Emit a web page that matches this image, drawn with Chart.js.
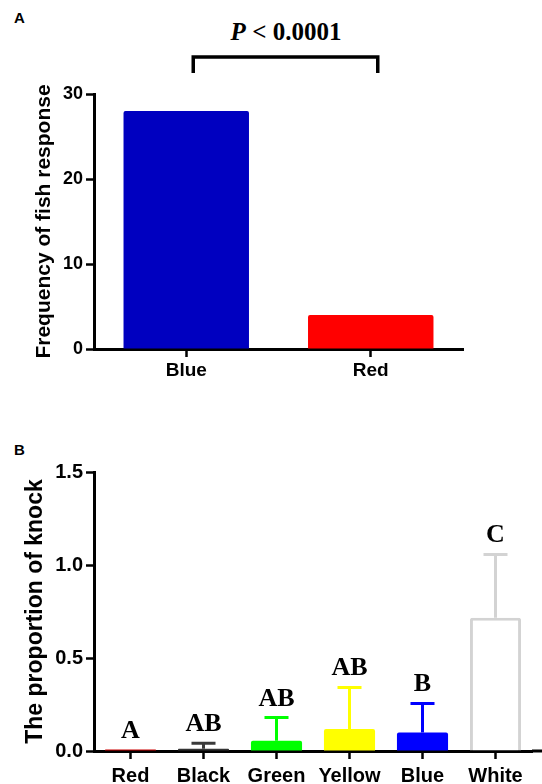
<!DOCTYPE html>
<html>
<head>
<meta charset="utf-8">
<script src="https://cdn.jsdelivr.net/npm/chart.js@4.4.1/dist/chart.umd.min.js"></script>
<style>
  html, body { margin: 0; padding: 0; background: #fff; }
  body { width: 542px; height: 784px; position: relative; overflow: hidden; }
  .panel { position: absolute; font: bold 15px "Liberation Sans", Arial, sans-serif; }
  #pval { position: absolute; left: 186px; width: 200px; top: 18px; text-align: center;
          font: bold 25px "Liberation Serif", "Times New Roman", serif; }
  #chartA { position: absolute; left: 0; top: 0; }
  #chartB { position: absolute; left: 0; top: 400px; }
</style>
</head>
<body>
<div class="panel" style="left:14px;top:9px;">A</div>
<div id="pval"><i>P</i> &lt; 0.0001</div>
<div class="panel" style="left:14px;top:441px;">B</div>
<canvas id="chartA" width="542" height="400"></canvas>
<canvas id="chartB" width="542" height="384"></canvas>
<script>
// panel A
const responseLabels = ["Blue", "Red"];
const responseCounts = [28, 4];
const responseTicks = [0, 10, 20, 30];

// panel B
const knockLabels = ["Red", "Black", "Green", "Yellow", "Blue", "White"];
const knockMean = [0.008, 0.012, 0.055, 0.118, 0.10, 0.717];
const knockSd = [0, 0.03, 0.125, 0.224, 0.156, 0.34];
const knockLetters = ["A", "AB", "AB", "AB", "B", "C"];
const knockTicks = [0, 0.5, 1.0, 1.5];

const sans = "'Liberation Sans', Arial, sans-serif";
const serif = "'Liberation Serif', 'Times New Roman', serif";

const barFill = ["#CC0000", "#333333", "#00FF00", "#FFFF00", "#0000FF", "#FFFFFF"];
const errColor = ["#CC0000", "#3A3A3A", "#00FF00", "#FFFF00", "#0000FF", "#D3D3D3"];

function axisStyle(fontSize) {
  return {
    border: { display: true, color: "#000", width: 3 },
    grid: { drawOnChartArea: false, drawTicks: true, tickLength: 8, tickWidth: 2.5, tickColor: "#000", offset: false },
    ticks: { color: "#000", font: { family: sans, size: fontSize, weight: "bold" } }
  };
}

// bracket over panel A
const bracket = {
  id: "bracket",
  afterDraw(chart) {
    const { ctx, chartArea, scales: { x } } = chart;
    const x0 = x.getPixelForValue(0) + 7;
    const x1 = x.getPixelForValue(1) + 7;
    const top = chartArea.top - 37;
    const foot = chartArea.top - 21;
    ctx.save();
    ctx.strokeStyle = "#000";
    ctx.lineWidth = 3.5;
    ctx.beginPath();
    ctx.moveTo(x0, foot);
    ctx.lineTo(x0, top);
    ctx.lineTo(x1, top);
    ctx.lineTo(x1, foot);
    ctx.stroke();
    ctx.restore();
  }
};

const axA = axisStyle(18);
new Chart(document.getElementById("chartA"), {
  type: "bar",
  data: {
    labels: responseLabels,
    datasets: [{
      data: responseCounts,
      backgroundColor: ["#0000C0", "#FF0000"],
      borderWidth: 0,
      borderRadius: 2,
      borderSkipped: "bottom",
      barPercentage: 0.68,
      categoryPercentage: 1
    }]
  },
  options: {
    responsive: false,
    animation: false,
    layout: { padding: { top: 94, right: 79, left: 0, bottom: 0 } },
    plugins: { legend: { display: false }, tooltip: { enabled: false } },
    scales: {
      x: {
        ...axA,
        ticks: { ...axA.ticks, font: { family: sans, size: 19, weight: "bold" }, padding: 2 },
        afterFit(s) { s.height = 51; }
      },
      y: {
        ...axA,
        min: 0, max: 30,
        afterBuildTicks(s) { s.ticks = responseTicks.map(v => ({ value: v })); },
        ticks: { ...axA.ticks, padding: 3 },
        title: { display: true, text: "Frequency of fish response", color: "#000",
                 font: { family: sans, size: 21, weight: "bold" }, padding: { top: 32, bottom: 0 } },
        afterFit(s) { s.width = 94; }
      }
    }
  },
  plugins: [bracket]
});

// error bars and letters for panel B
const errorBars = {
  id: "errorBars",
  afterDraw(chart) {
    const { ctx, chartArea, scales: { y } } = chart;
    const meta = chart.getDatasetMeta(0);
    ctx.save();
    // x axis runs on to the edge
    ctx.strokeStyle = "#000";
    ctx.lineWidth = 3;
    ctx.beginPath();
    ctx.moveTo(chartArea.right, chartArea.bottom);
    ctx.lineTo(chart.width, chartArea.bottom);
    ctx.stroke();
    meta.data.forEach((bar, i) => {
      const hi = knockMean[i] + knockSd[i];
      const top = y.getPixelForValue(hi);
      if (knockSd[i] > 0) {
        ctx.strokeStyle = errColor[i];
        ctx.lineWidth = 3;
        ctx.beginPath();
        ctx.moveTo(bar.x, bar.y);
        ctx.lineTo(bar.x, top);
        ctx.moveTo(bar.x - 12, top);
        ctx.lineTo(bar.x + 12, top);
        ctx.stroke();
      }
      ctx.fillStyle = "#000";
      ctx.font = "bold 26px " + serif;
      ctx.textAlign = "center";
      ctx.textBaseline = "alphabetic";
      ctx.fillText(knockLetters[i], bar.x, top - 12);
    });
    ctx.restore();
  }
};

const axB = axisStyle(20);
new Chart(document.getElementById("chartB"), {
  type: "bar",
  data: {
    labels: knockLabels,
    datasets: [{
      data: knockMean,
      backgroundColor: barFill,
      borderColor: ["#CC0000", "#333333", "#00FF00", "#FFFF00", "#0000FF", "#D3D3D3"],
      borderWidth: [0, 0, 0, 0, 0, 3],
      borderRadius: 2,
      borderSkipped: "bottom",
      barPercentage: 0.7,
      categoryPercentage: 1
    }]
  },
  options: {
    responsive: false,
    animation: false,
    layout: { padding: { top: 72, right: 10, left: 0, bottom: 0 } },
    plugins: { legend: { display: false }, tooltip: { enabled: false } },
    scales: {
      x: {
        ...axB,
        ticks: { ...axB.ticks, padding: 5 },
        afterFit(s) { s.height = 33; }
      },
      y: {
        ...axB,
        min: 0, max: 1.5,
        afterBuildTicks(s) { s.ticks = knockTicks.map(v => ({ value: v })); },
        ticks: { ...axB.ticks, padding: 3, callback: v => Number(v).toFixed(1) },
        title: { display: true, text: "The proportion of knock", color: "#000",
                 font: { family: sans, size: 23, weight: "bold" }, padding: { top: 22, bottom: 0 } },
        afterFit(s) { s.width = 94; }
      }
    }
  },
  plugins: [errorBars]
});
</script>
</body>
</html>
